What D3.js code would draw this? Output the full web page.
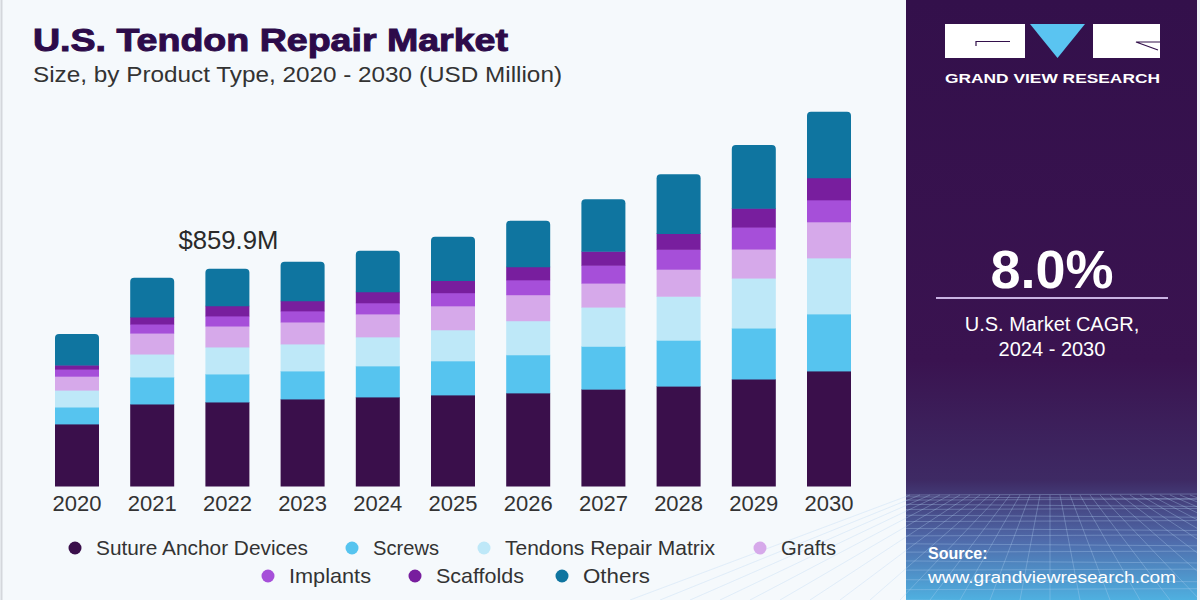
<!DOCTYPE html>
<html>
<head>
  <meta charset="utf-8">
  <title>U.S. Tendon Repair Market</title>
  <script src="https://d3js.org/d3.v7.min.js"></script>
  <style>
    body { margin: 0; background: #f5f9fc; }
    svg { display: block; }
  </style>
</head>
<body>
  <svg width="1200" height="600"></svg>

  <script>
    // Chart data (USD Million)
    const years = ["2020", "2021", "2022", "2023", "2024", "2025", "2026", "2027", "2028", "2029", "2030"];
    const segments = ["Suture Anchor Devices", "Screws", "Tendons Repair Matrix", "Grafts", "Implants", "Scaffolds", "Others"];
    const sutureAnchor = [246, 325, 333, 345, 353, 361, 369, 384, 396, 424, 456];
    const screws       = [67, 107, 111, 111, 123, 135, 151, 170, 182, 202, 226];
    const repairMatrix = [67, 91, 107, 107, 115, 123, 135, 155, 174, 198, 222];
    const grafts       = [55, 83, 83, 87, 91, 95, 103, 95, 107, 115, 143];
    const implants     = [28, 36, 40, 44, 44, 52, 59, 71, 79, 87, 87];
    const scaffolds    = [16, 28, 40, 40, 44, 48, 52, 55, 63, 75, 87];
    const others       = [123, 155, 147, 155, 162, 174, 182, 206, 234, 250, 262];
    const colors = ["#3a0f4b", "#56c4ef", "#bee8f8", "#d6a9ea", "#a64fd9", "#781e9e", "#0f75a0"];

    // Legend rows
    const legendRow1 = ["Suture Anchor Devices", "Screws", "Tendons Repair Matrix", "Grafts"];
    const legendRow2 = ["Implants", "Scaffolds", "Others"];

    const series = [sutureAnchor, screws, repairMatrix, grafts, implants, scaffolds, others];
    const table = years.map((y, i) => {
      const row = { year: y };
      segments.forEach((s, j) => row[s] = series[j][i]);
      return row;
    });

    const svg = d3.select("svg");

    // Backgrounds
    svg.append("rect").attr("width", 1200).attr("height", 600).attr("fill", "#f5f9fc");
    svg.append("line").attr("x1", 1.5).attr("x2", 1.5).attr("y1", 0).attr("y2", 600)
      .attr("stroke", "#d4d7dc").attr("stroke-width", 2);

    // Right panel with gradient
    const defs = svg.append("defs");
    const grad = defs.append("linearGradient").attr("id", "panelGrad")
      .attr("x1", 0).attr("y1", 0).attr("x2", 0).attr("y2", 1);
    grad.append("stop").attr("offset", "0%").attr("stop-color", "#33104b");
    grad.append("stop").attr("offset", "60%").attr("stop-color", "#3a1350");
    grad.append("stop").attr("offset", "80%").attr("stop-color", "#3e2a64");
    grad.append("stop").attr("offset", "90%").attr("stop-color", "#4f6aaa");
    grad.append("stop").attr("offset", "100%").attr("stop-color", "#4fb0e0");

    svg.append("rect").attr("x", 906).attr("y", 0).attr("width", 291).attr("height", 600)
      .attr("fill", "url(#panelGrad)");

    // Perspective grid in the lower part of the panel
    const grid = svg.append("g").attr("stroke", "#b3d2f2").attr("stroke-opacity", 0.4)
      .attr("stroke-width", 0.8).attr("fill", "none");
    const horizonY = 495;
    d3.range(0, 16).forEach(k => {
      const y = horizonY + Math.pow(k / 15, 1.5) * 105;
      grid.append("line").attr("x1", 906).attr("x2", 1197).attr("y1", y).attr("y2", y + (k % 2 ? 2 : -1));
    });
    d3.range(-14, 27).forEach(k => {
      const xTop = 1050 + k * 10;
      const xBot = 1050 + k * 30;
      grid.append("line").attr("x1", xTop).attr("y1", horizonY).attr("x2", xBot).attr("y2", 600);
    });
    svg.append("rect").attr("x", 1197).attr("y", 0).attr("width", 3).attr("height", 600).attr("fill", "#eef2f7");

    // Title
    svg.append("text")
      .attr("x", 33).attr("y", 51)
      .attr("font-family", "Liberation Sans, Arial, sans-serif")
      .attr("font-weight", 700)
      .attr("font-size", 32)
      .attr("fill", "#2d0b4a")
      .attr("stroke", "#2d0b4a").attr("stroke-width", 1)
      .attr("textLength", 475).attr("lengthAdjust", "spacingAndGlyphs")
      .text("U.S. Tendon Repair Market");

    svg.append("text")
      .attr("x", 33).attr("y", 82)
      .attr("font-family", "Liberation Sans, Arial, sans-serif")
      .attr("font-size", 22)
      .attr("fill", "#333")
      .attr("textLength", 529).attr("lengthAdjust", "spacingAndGlyphs")
      .text("Size, by Product Type, 2020 - 2030 (USD Million)");

    // Scales
    const x = d3.scaleBand()
      .domain(years)
      .range([55, 851])
      .paddingInner(0.415)
      .paddingOuter(0);

    const y = d3.scaleLinear()
      .domain([0, 859.9])
      .range([486, 269]);

    const stack = d3.stack().keys(segments);
    const stacked = stack(table);

    const layers = svg.append("g").selectAll("g")
      .data(stacked)
      .join("g")
      .attr("fill", (d, i) => colors[i]);

    // Rounded top only for last layer
    const r = 4;
    layers.each(function(layer, li) {
      const g = d3.select(this);
      if (li < segments.length - 1) {
        g.selectAll("rect").data(layer).join("rect")
          .attr("x", d => x(d.data.year))
          .attr("width", x.bandwidth())
          .attr("y", d => y(d[1]))
          .attr("height", d => y(d[0]) - y(d[1]) + 0.5);
      } else {
        g.selectAll("path").data(layer).join("path")
          .attr("d", d => {
            const x0 = x(d.data.year), x1 = x0 + x.bandwidth();
            const yt = y(d[1]), yb = y(d[0]) + 0.5;
            return `M${x0},${yb}V${yt + r}Q${x0},${yt} ${x0 + r},${yt}H${x1 - r}Q${x1},${yt} ${x1},${yt + r}V${yb}Z`;
          });
      }
    });

    // X axis labels
    const xAxis = svg.append("g")
      .attr("transform", "translate(0,486)")
      .call(d3.axisBottom(x).tickSize(0).tickPadding(7));
    xAxis.select(".domain").remove();
    xAxis.selectAll("text")
      .attr("font-family", "Liberation Sans, Arial, sans-serif")
      .attr("font-size", 22)
      .attr("fill", "#333")
      .attr("dy", "0.82em");

    // Annotation for 2022
    const total2022 = d3.sum(series, s => s[2]);
    svg.append("text")
      .attr("x", x("2022") + x.bandwidth() / 2 + 1)
      .attr("y", y(total2022) - 20)
      .attr("text-anchor", "middle")
      .attr("font-family", "Liberation Sans, Arial, sans-serif")
      .attr("font-size", 25)
      .attr("fill", "#2a2a2a")
      .attr("textLength", 100).attr("lengthAdjust", "spacingAndGlyphs")
      .text("$859.9M");

    // Legend
    const legendFont = "Liberation Sans, Arial, sans-serif";
    const legendPos1 = [75, 352, 484, 760];
    const legendPos2 = [268, 415, 562];
    const legendWidth1 = [212, 66, 210, 55];
    const legendWidth2 = [82, 88, 67];
    function drawLegend(items, xs, ws, yy) {
      const g = svg.append("g");
      items.forEach((name, i) => {
        const ci = segments.indexOf(name);
        g.append("circle").attr("cx", xs[i]).attr("cy", yy).attr("r", 6.5).attr("fill", colors[ci]);
        g.append("text")
          .attr("x", xs[i] + 21).attr("y", yy + 7)
          .attr("font-family", legendFont)
          .attr("font-size", 21)
          .attr("fill", "#333")
          .attr("textLength", ws[i]).attr("lengthAdjust", "spacingAndGlyphs")
          .text(name);
      });
    }
    drawLegend(legendRow1, legendPos1, legendWidth1, 548);
    drawLegend(legendRow2, legendPos2, legendWidth2, 576);

    // Logo
    const logo = svg.append("g");
    logo.append("rect").attr("x", 945).attr("y", 24).attr("width", 80).attr("height", 34).attr("fill", "#ffffff");
    logo.append("path").attr("d", "M1030,24H1085L1057.5,58Z").attr("fill", "#5ac4f1");
    logo.append("rect").attr("x", 1093).attr("y", 24).attr("width", 67).attr("height", 34).attr("fill", "#ffffff");
    logo.append("path").attr("d", "M976,46V41.5H1010").attr("stroke", "#33104b").attr("stroke-width", 1.2).attr("fill", "none");
    logo.append("path").attr("d", "M1160,42H1136L1158,50").attr("stroke", "#33104b").attr("stroke-width", 1.2).attr("fill", "none");
    logo.append("text")
      .attr("x", 945).attr("y", 83)
      .attr("font-family", "Liberation Sans, Arial, sans-serif")
      .attr("font-weight", 700).attr("font-size", 13.5)
      .attr("fill", "#ffffff")
      .attr("textLength", 215).attr("lengthAdjust", "spacingAndGlyphs")
      .text("GRAND VIEW RESEARCH");

    // CAGR block
    svg.append("text")
      .attr("x", 1052).attr("y", 288)
      .attr("text-anchor", "middle")
      .attr("font-family", "Liberation Sans, Arial, sans-serif")
      .attr("font-weight", 700).attr("font-size", 54)
      .attr("fill", "#ffffff")
      .text("8.0%");
    svg.append("line")
      .attr("x1", 936).attr("x2", 1168).attr("y1", 298).attr("y2", 298)
      .attr("stroke", "#c9b3e3").attr("stroke-width", 2);
    svg.append("text")
      .attr("x", 1052).attr("y", 331)
      .attr("text-anchor", "middle")
      .attr("font-family", "Liberation Sans, Arial, sans-serif")
      .attr("font-size", 20).attr("fill", "#ffffff")
      .text("U.S. Market CAGR,");
    svg.append("text")
      .attr("x", 1052).attr("y", 356)
      .attr("text-anchor", "middle")
      .attr("font-family", "Liberation Sans, Arial, sans-serif")
      .attr("font-size", 20).attr("fill", "#ffffff")
      .text("2024 - 2030");

    // Source
    svg.append("text")
      .attr("x", 928).attr("y", 559)
      .attr("font-family", "Liberation Sans, Arial, sans-serif")
      .attr("font-weight", 700).attr("font-size", 16)
      .attr("fill", "#ffffff")
      .text("Source:");
    svg.append("text")
      .attr("x", 928).attr("y", 583)
      .attr("font-family", "Liberation Sans, Arial, sans-serif")
      .attr("font-size", 16)
      .attr("fill", "#ffffff")
      .attr("textLength", 248).attr("lengthAdjust", "spacingAndGlyphs")
      .text("www.grandviewresearch.com");
  </script>
</body>
</html>
